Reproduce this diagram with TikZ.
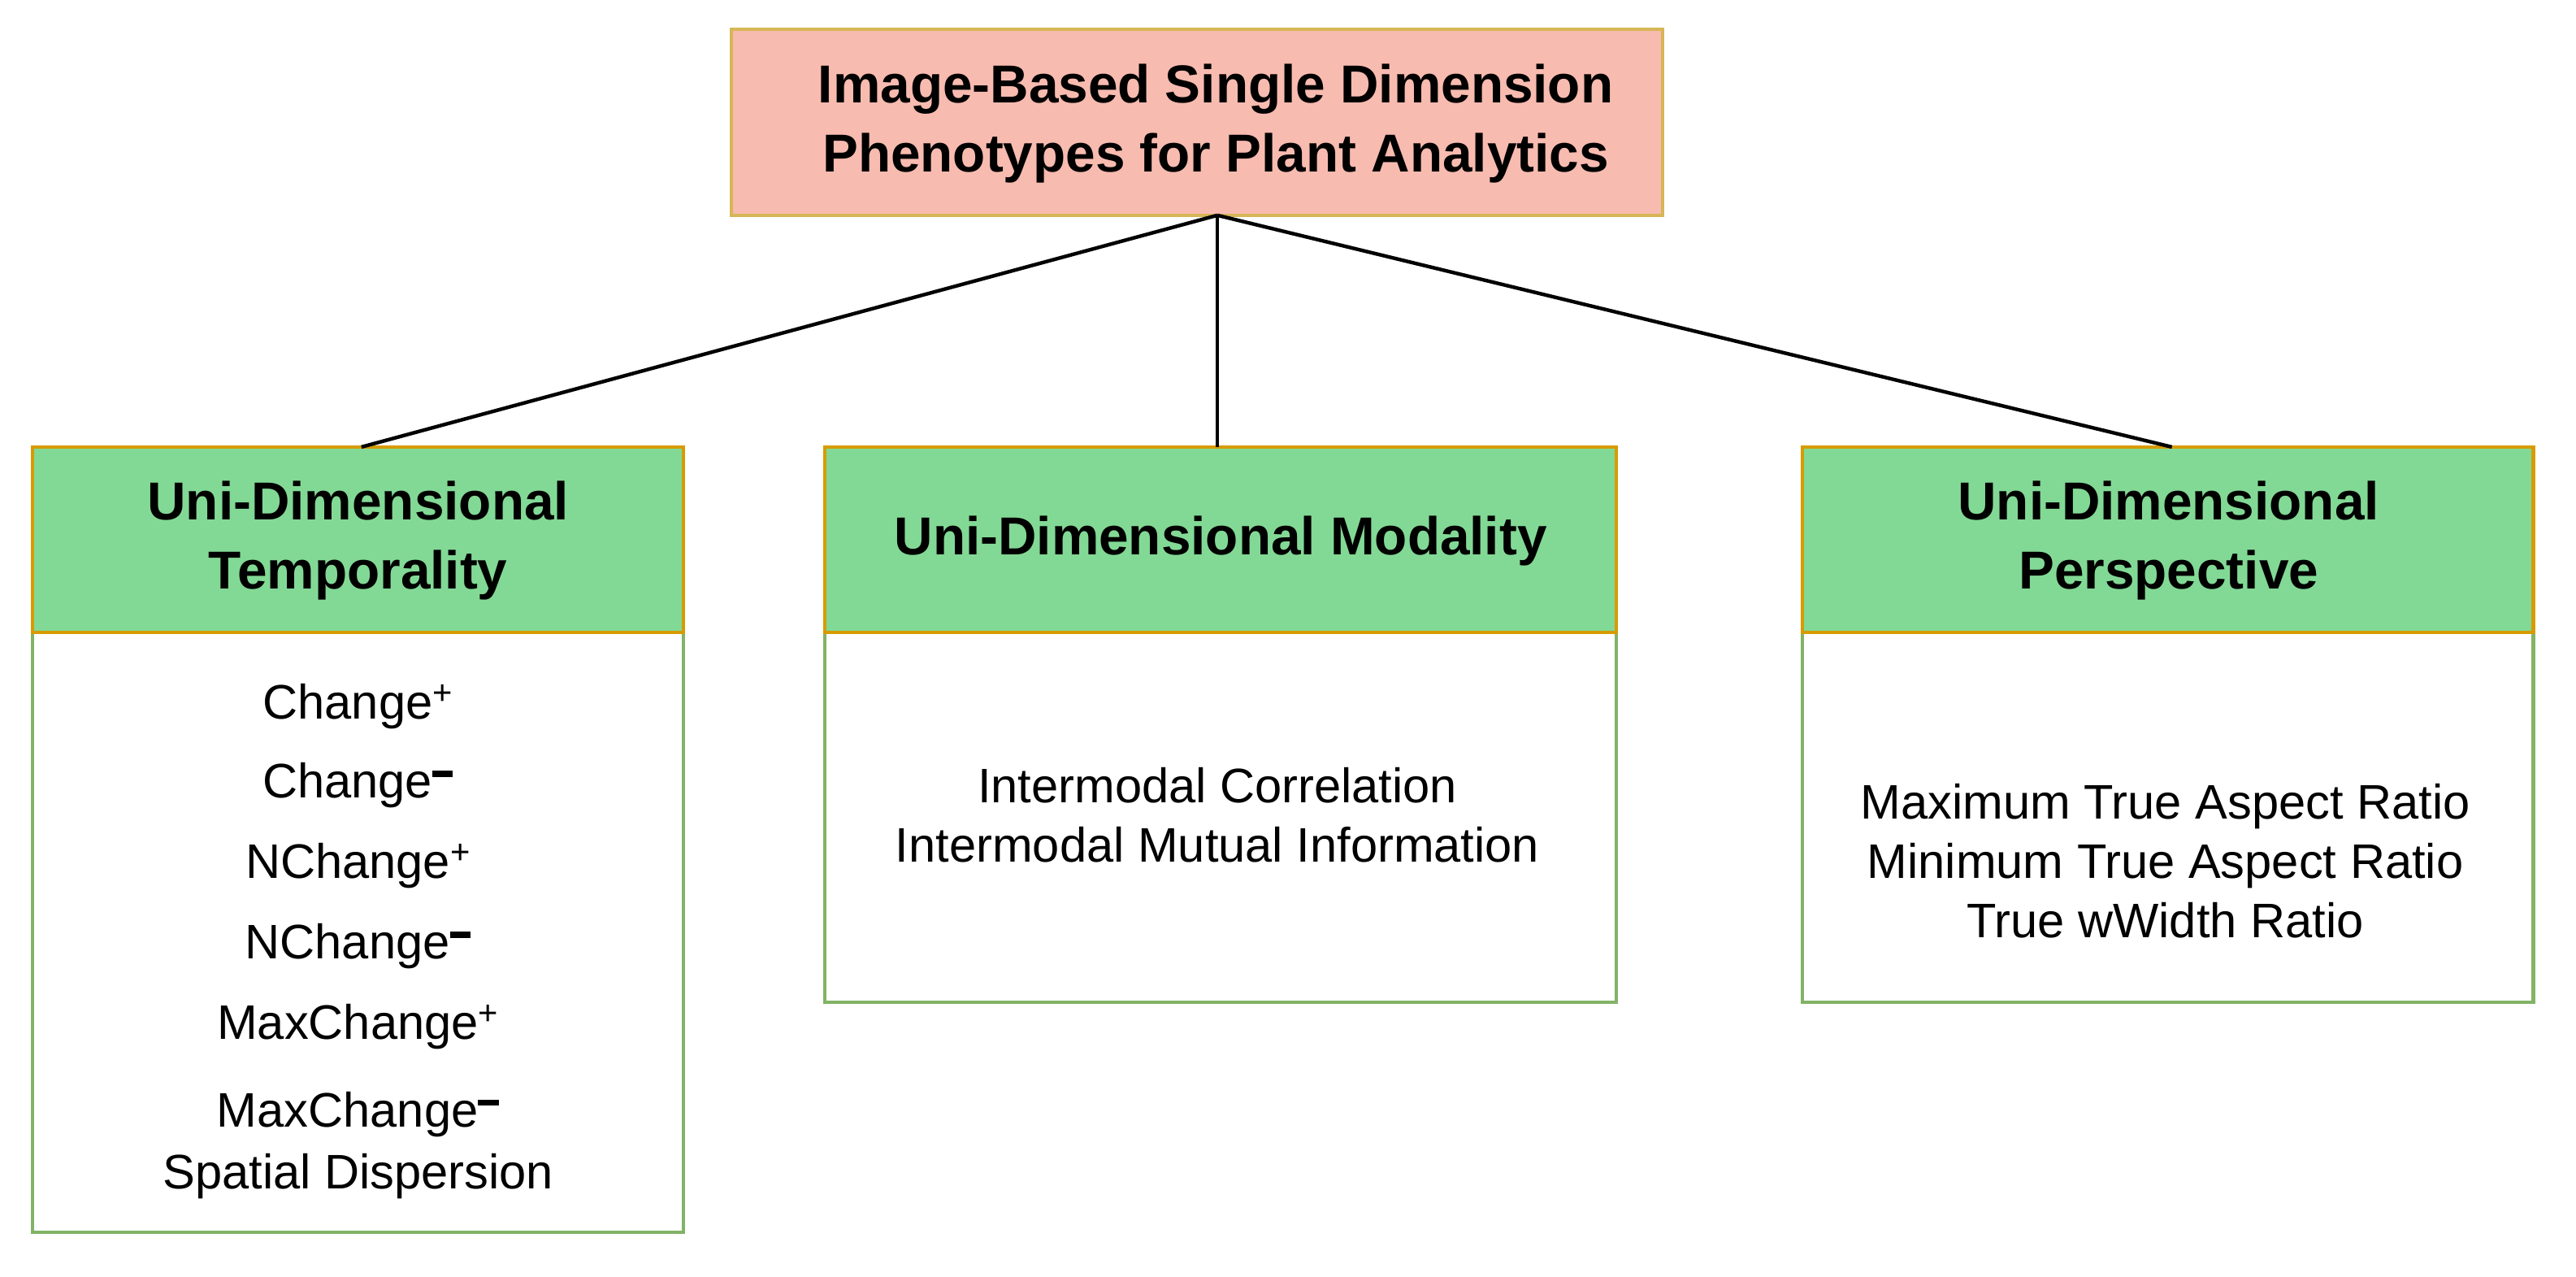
\documentclass[tikz,border=0pt]{standalone}
\usepackage{fontspec}
\setmainfont{Liberation Sans}
\definecolor{topf}{HTML}{F8BBB0}
\definecolor{topd}{HTML}{D6B656}
\definecolor{hf}{HTML}{82D995}
\definecolor{hd}{HTML}{D79B00}
\definecolor{bd}{HTML}{82B366}
\begin{document}
\begin{tikzpicture}[x=1pt,y=-1pt,
 box/.style={draw=#1,line width=2pt},
 t/.style={font=\fontsize{29.5}{36}\selectfont,align=center},
 hb/.style={font=\fontsize{32.5}{42}\selectfont\bfseries,align=center},
 conn/.style={line width=2.2pt}]
\useasboundingbox (0,0) rectangle (1568,777);
\fill[white] (0,0) rectangle (1568,777);
% top
\draw[box=topd,fill=topf] (445,18) rectangle (1012,131);
\node[hb] (top) at (740,75) {Image-Based Single Dimension\\Phenotypes for Plant Analytics};
\coordinate (tb) at (741,131);
% bodies
\draw[box=bd,fill=white] (20,385) rectangle (416,750);
\draw[box=bd,fill=white] (502,385) rectangle (984,610);
\draw[box=bd,fill=white] (1097,385) rectangle (1542,610);
% headers
\draw[box=hd,fill=hf] (20,272) rectangle (416,385);
\draw[box=hd,fill=hf] (502,272) rectangle (984,385);
\draw[box=hd,fill=hf] (1097,272) rectangle (1542,385);
\node[hb] (h1) at (218,329) {Uni-Dimensional\\Temporality};
\node[hb] (h2) at (743,329) {Uni-Dimensional Modality};
\node[hb] (h3) at (1320,329) {Uni-Dimensional\\Perspective};
\coordinate (c1) at (220,272);
\coordinate (c2) at (741,272);
\coordinate (c3) at (1322,272);
\draw[conn] (tb) -- (c1);
\draw[conn] (tb) -- (c2);
\draw[conn] (tb) -- (c3);
% left body
\newcommand{\mplus}{\textsuperscript{+}}
\newcommand{\mminus}{\textsuperscript{\rule[0.35ex]{0.6em}{0.18em}}}
\node[t] (l1) at (218,430) {Change\mplus};
\node[t] (l2) at (218,478) {Change\mminus};
\node[t] (l3) at (218,527) {NChange\mplus};
\node[t] (l4) at (218,576) {NChange\mminus};
\node[t] (l5) at (218,625) {MaxChange\mplus};
\node[t] (l6) at (218,678) {MaxChange\mminus};
\node[t] (l7) at (218,716) {Spatial Dispersion};
\node[t] (m1) at (741,496) {Intermodal Correlation\\Intermodal Mutual Information};
\node[t] (r1) at (1318,524) {Maximum True Aspect Ratio\\Minimum True Aspect Ratio\\True wWidth Ratio};
\end{tikzpicture}
\end{document}
